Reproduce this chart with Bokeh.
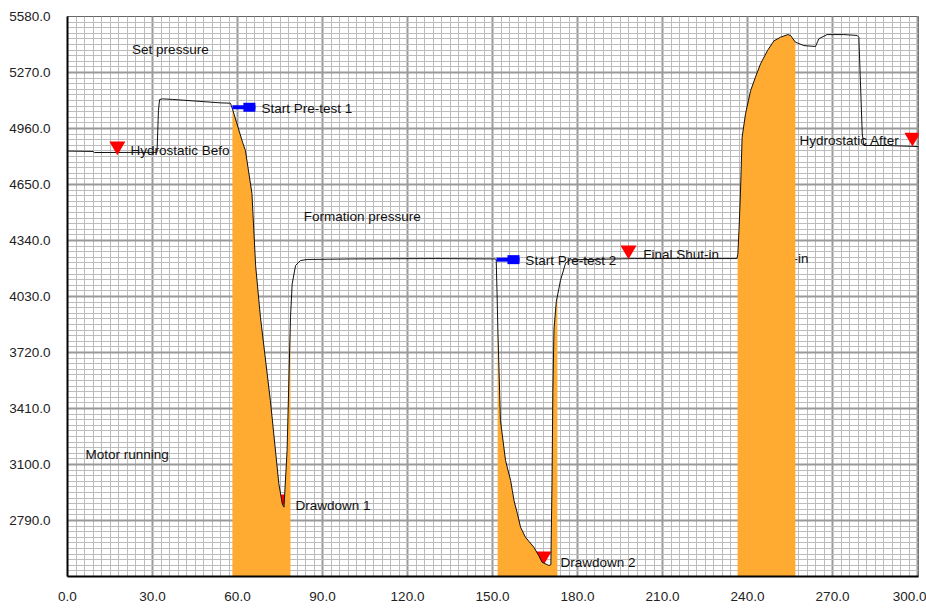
import numpy as np
from bokeh.plotting import figure
from bokeh.models import Range1d, FixedTicker, PrintfTickFormatter
from bokeh.core.properties import value
from bokeh.embed import file_html
from bokeh.resources import INLINE

# ---- pressure record (time in minutes, pressure) ----
time_min = [0, 9.0, 9.5, 31.6, 32.1, 32.5, 33.5, 37.0, 54.0, 57.5,
            58.2, 61.8, 62.8, 65.1, 66.4, 68.1, 71.6, 74.6, 75.8, 76.4,
            77.5, 78.1, 78.7, 79.3, 80.5, 82.2, 84.6, 100, 130, 150.9,
            151.3, 151.6, 151.9, 152.8, 154.6, 156.4, 157.0, 157.6, 158.8, 159.9,
            161.6, 164.6, 166.3, 167.5, 169.9, 170.6, 171.0, 171.3, 171.7, 172.5,
            174.0, 175.8, 177.5, 200, 236.3, 236.6, 237.0, 237.5, 238.1, 239.3,
            241.1, 242.8, 244.6, 247.0, 249.3, 251.6, 254.2, 255.2, 256.9, 259.9,
            264.0, 265.2, 268.1, 274.0, 278.7, 279.3, 280.5, 281.1, 288.7, 300.4]
pressure = [4835, 4833, 4827, 4828, 5060, 5120, 5124, 5121, 5102, 5100,
            5069, 4883, 4838, 4600, 4200, 3915, 3454, 2993, 2882, 2864,
            3177, 3546, 3915, 4100, 4202, 4229, 4235, 4238, 4240, 4238,
            4235, 4050, 3840, 3344, 3122, 3011, 2956, 2900, 2827, 2753,
            2698, 2642, 2596, 2559, 2541, 2545, 3000, 3500, 3850, 4000,
            4120, 4215, 4233, 4240, 4240, 4265, 4400, 4598, 4912, 5041,
            5170, 5244, 5318, 5390, 5445, 5465, 5480, 5475, 5438, 5419,
            5414, 5457, 5480, 5480, 5475, 5465, 4930, 4866, 4866, 4860]

# motor running periods (orange)
motor_start = [58.2, 151.8, 236.5]
motor_end = [78.7, 172.9, 256.9]

# axes
x_ticks = [0, 30, 60, 90, 120, 150, 180, 210, 240, 270, 300]
x_minor = [3 * i for i in range(101)]
y_ticks = [2790, 3100, 3410, 3720, 4030, 4340, 4650, 4960, 5270, 5580]
y_minor = [2480 + 31 * i for i in range(101)]
x_lo, x_hi = 0, 300.35
y_lo, y_hi = 2480, 5580

# pre-test start flags
flag_t = [58.2, 151.4]
flag_p = [5078, 4234]
flag_text = ["Start Pre-test 1", "Start Pre-test 2"]
flag_text_t = [68.5, 161.6]
flag_text_p = [5071, 4232]

# event markers drawn over everything
evt_t = [17.6, 198.0, 298.2]
evt_p = [4863, 4287, 4911]
# event markers lying behind the fill
hid_t = [75.5, 168.0]
hid_p = [2908, 2593]

# event labels
lbl_text = ["Hydrostatic Befo", "Drawdown 1", "Drawdown 2", "Final Shut-in",
            "Set pressure", "Formation pressure", "Motor running"]
lbl_t = [22.2, 80.5, 174.0, 203.2, 22.8, 83.4, 6.35]
lbl_p = [4838, 2873, 2560, 4260, 5400, 4473, 3155]
lbl_right_text = ["Hydrostatic After"]
lbl_right_t = [293.6]
lbl_right_p = [4891]
hidden_text = ["Shut-in"]
hidden_t = [261.5]
hidden_p = [4240]

ORANGE = "#FFAA30"
FONT = "Liberation Sans"
FS = "13.5px"

W, H = 926, 611
BL, BR, BT, BB = 67, 8, 16, 35
frame_w = W - BL - BR

p = figure(width=W, height=H, output_backend="svg", toolbar_location=None,
           x_range=Range1d(x_lo, x_hi), y_range=Range1d(y_lo, y_hi),
           min_border_left=BL, min_border_right=BR,
           min_border_top=BT, min_border_bottom=BB,
           background_fill_color="white", border_fill_color="white")
p.outline_line_color = "#666666"
p.outline_line_width = 1

for ax, tk, mn in ((p.xaxis, x_ticks, x_minor), (p.yaxis, y_ticks, y_minor)):
    ax.ticker = FixedTicker(ticks=tk, minor_ticks=mn)
    ax.formatter = PrintfTickFormatter(format="%.1f")
    ax.major_tick_line_color = None
    ax.minor_tick_line_color = None
    ax.axis_line_color = "black"
    ax.axis_line_width = 2
    ax.major_label_text_font = FONT
    ax.major_label_text_font_size = FS
    ax.major_label_text_color = "#222222"
p.xaxis.major_label_standoff = 9
p.yaxis.major_label_standoff = 11

for g in (p.xgrid, p.ygrid):
    g.grid_line_color = "#9a9a9a"
    g.grid_line_width = 2
    g.minor_grid_line_color = "#bcbcbc"
    g.minor_grid_line_width = 1

t_arr = np.array(time_min, dtype=float)
p_arr = np.array(pressure, dtype=float)

# label partly hidden behind the last fill
p.text(x=hidden_t, y=hidden_p, text=hidden_text, text_align="right",
       text_baseline="middle", text_font=value(FONT), text_font_size=FS,
       text_color="#111111")
# drawdown markers (behind fill)
p.scatter(x=hid_t, y=hid_p, marker="inverted_triangle", size=16,
          fill_color="#ff0000", line_color=None)

# motor running fills under the curve
for s, e in zip(motor_start, motor_end):
    m = (t_arr > s) & (t_arr < e)
    xs = np.concatenate(([s], t_arr[m], [e]))
    ys = np.interp(xs, t_arr, p_arr)
    p.varea(x=xs, y1=np.full(len(xs), y_lo), y2=ys, fill_color=ORANGE)

# pressure line
p.line(t_arr, p_arr, line_color="#111111", line_width=1)

# flags
dx = 17 * (x_hi - x_lo) / frame_w
p.ray(x=flag_t, y=flag_p, length=23, length_units="screen", angle=0,
      line_color="#0000ff", line_width=4)
p.rect(x=[t + dx for t in flag_t], y=flag_p, width=12, height=9,
       width_units="screen", height_units="screen",
       fill_color="#0000ff", line_color=None)
p.text(x=flag_text_t, y=flag_text_p, text=flag_text, text_baseline="middle",
       text_font=value(FONT), text_font_size=FS, text_color="#111111")

# event markers
p.scatter(x=evt_t, y=evt_p, marker="inverted_triangle", size=16,
          fill_color="#ff0000", line_color=None)

p.text(x=lbl_t, y=lbl_p, text=lbl_text, text_baseline="middle",
       text_font=value(FONT), text_font_size=FS, text_color="#111111")
p.text(x=lbl_right_t, y=lbl_right_p, text=lbl_right_text, text_align="right",
       text_baseline="middle", text_font=value(FONT), text_font_size=FS,
       text_color="#111111")

open("out.html", "w").write(file_html(p, INLINE))
